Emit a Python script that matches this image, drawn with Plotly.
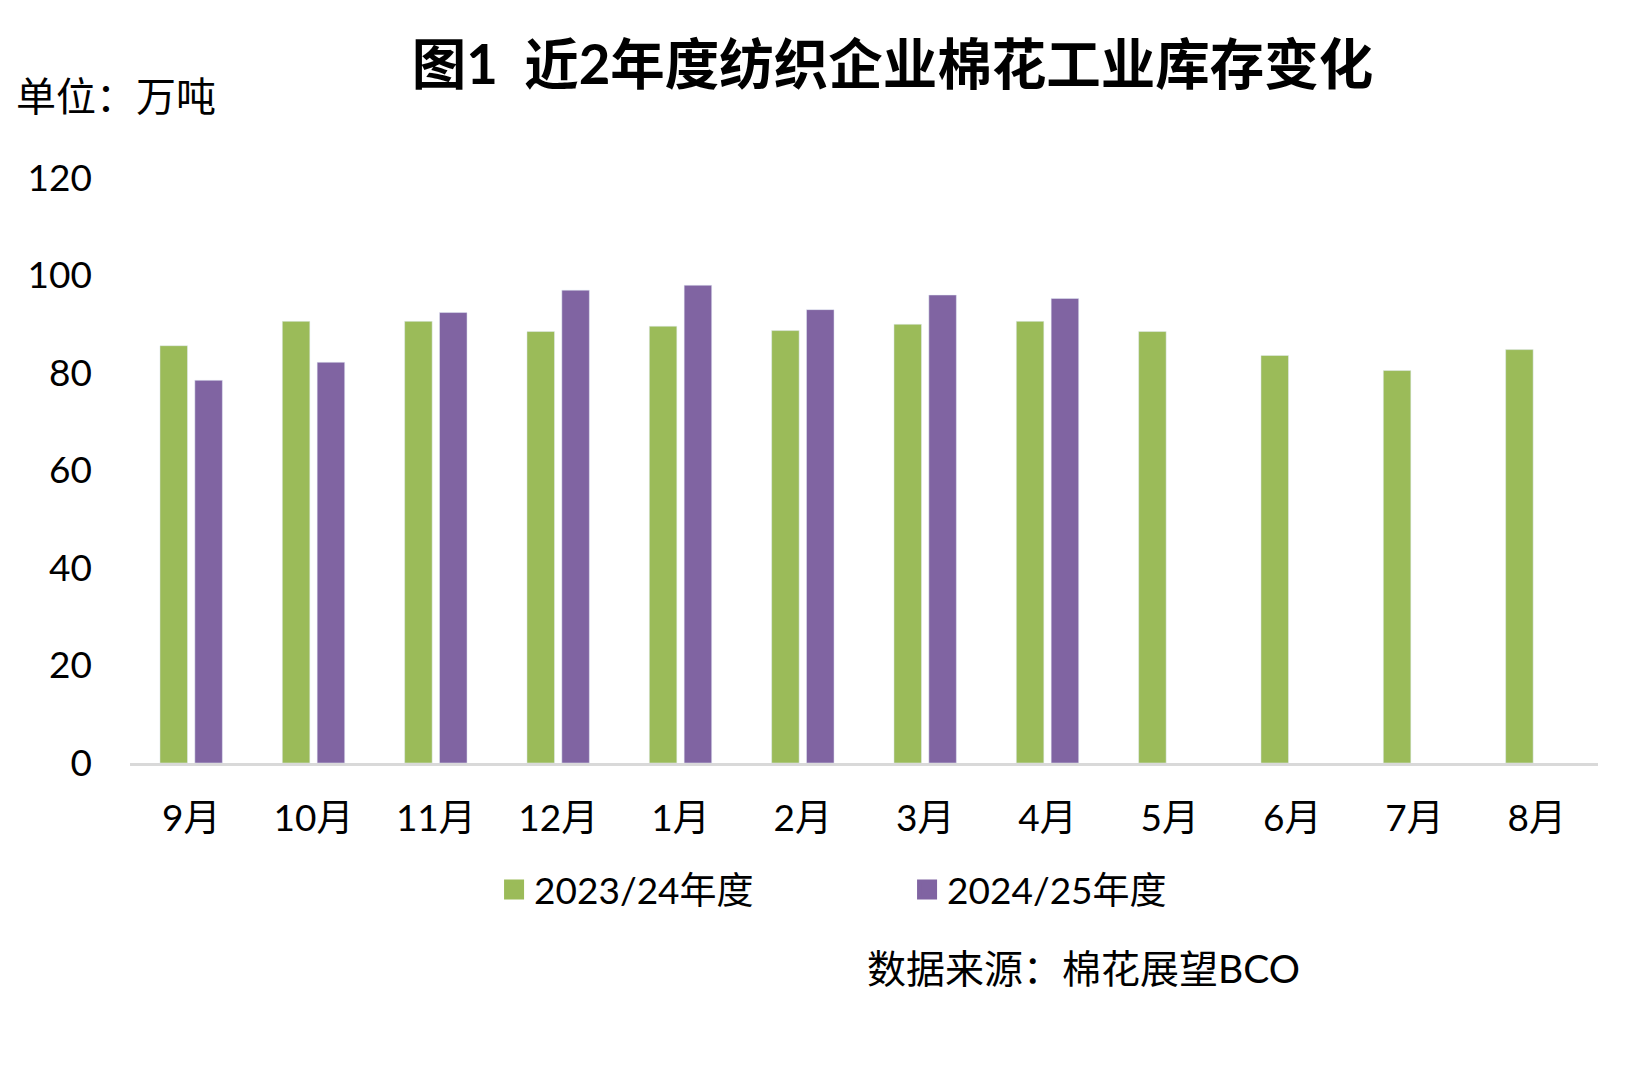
import plotly.graph_objects as go

months = ["9月", "10月", "11月", "12月", "1月", "2月", "3月", "4月", "5月", "6月", "7月", "8月"]
season_2324 = [85.6, 90.6, 90.6, 88.5, 89.6, 88.7, 90.0, 90.6, 88.5, 83.6, 80.5, 84.8]
season_2425 = [78.5, 82.2, 92.4, 97.0, 98.0, 93.0, 96.0, 95.3, None, None, None, None]
name_2324 = "2023/24年度"
name_2425 = "2024/25年度"
color_2324 = "#9BBB59"
color_2425 = "#8064A2"

FONT = "Lato, 'Noto Sans CJK SC', sans-serif"

fig = go.Figure()
fig.add_trace(go.Bar(x=months, y=season_2324, name=name_2324, marker_color=color_2324,
                     showlegend=False))
fig.add_trace(go.Bar(x=months, y=season_2425, name=name_2425, marker_color=color_2425,
                     showlegend=False))
# legend entries with larger square symbols
fig.add_trace(go.Scatter(x=[None], y=[None], mode="markers", name=name_2324,
                         marker=dict(symbol="square", size=16, color=color_2324,
                                     line=dict(width=4, color=color_2324))))
fig.add_trace(go.Scatter(x=[None], y=[None], mode="markers", name=name_2425,
                         marker=dict(symbol="square", size=16, color=color_2425,
                                     line=dict(width=4, color=color_2425))))

fig.update_layout(
    width=1641, height=1061,
    paper_bgcolor="white", plot_bgcolor="white",
    margin=dict(l=122, r=51, t=170, b=306),
    barmode="group", bargap=0.43, bargroupgap=0.21,
    font=dict(family=FONT, size=37, color="#000000"),
    title=dict(text="<b>图1  近2年度纺织企业棉花工业库存变化</b>",
               x=0.539, xanchor="center", y=0.946, yanchor="middle",
               font=dict(family=FONT, size=54.5, color="#000000")),
    legend=dict(orientation="h", x=0.248, xanchor="left", y=-0.217, yanchor="middle",
                font=dict(family=FONT, size=37), entrywidth=368, entrywidthmode="pixels",
                itemsizing="trace", bgcolor="rgba(0,0,0,0)"),
    showlegend=True,
)
fig.update_xaxes(type="category", range=[-0.5, 11.5], showline=True, linecolor="#D9D9D9",
                 linewidth=3, ticks="", showgrid=False, tickfont=dict(size=37, family=FONT),
                 ticklabelstandoff=21, zeroline=False)
fig.update_yaxes(range=[0, 120], dtick=20, showgrid=False, zeroline=False, showline=False,
                 ticks="", tickfont=dict(size=37, family=FONT), ticklabelstandoff=37)

fig.add_annotation(text="单位：万吨", xref="paper", yref="paper", x=-0.079, xanchor="left",
                   y=1.144, yanchor="middle", showarrow=False,
                   font=dict(family="'Noto Sans CJK SC', sans-serif", size=40))
fig.add_annotation(text="数据来源：棉花展望BCO", xref="paper", yref="paper", x=0.501, xanchor="left",
                   y=-0.350, yanchor="middle", showarrow=False,
                   font=dict(family=FONT, size=39))

fig.write_html("out.html")
